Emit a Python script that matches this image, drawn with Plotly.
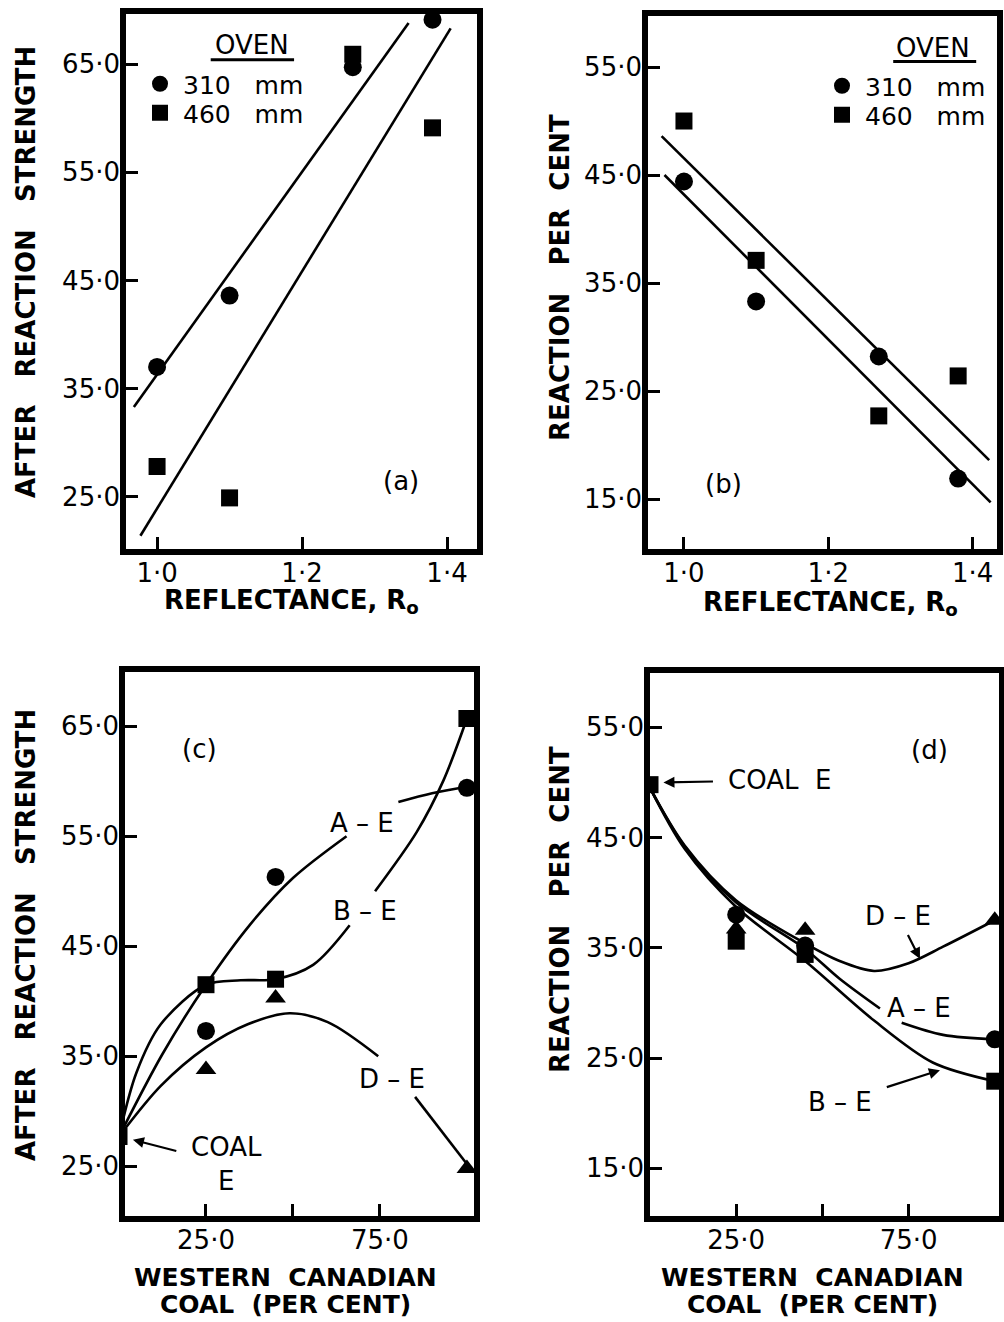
import plotly.graph_objects as go

W, H = 1004, 1322
FONT = "DejaVu Sans"
NB = "\u00a0"

# ---------------- reflectance series, panels (a) and (b) ----------------
reflectance = [1.00, 1.10, 1.27, 1.38]
strength_310 = [37.0, 43.6, 64.7, 69.1]
strength_460 = [27.8, 24.9, 65.9, 59.1]
reaction_310 = [44.4, 33.3, 28.2, 16.9]
reaction_460 = [50.0, 37.1, 22.7, 26.4]

# straight regression lines (end points)
fit_a_upper_x = [0.968, 1.347]
fit_a_upper_y = [33.3, 68.8]
fit_a_lower_x = [0.977, 1.405]
fit_a_lower_y = [21.4, 68.3]
fit_b_upper_x = [0.969, 1.423]
fit_b_upper_y = [48.6, 18.6]
fit_b_lower_x = [0.973, 1.425]
fit_b_lower_y = [45.0, 14.7]

# ---------------- blend series, panels (c) and (d) ----------------
blend_pct = [25, 45, 100]
coal_e_pct = [0]
coal_e_strength = [27.7]
coal_e_reaction = [49.8]
strength_AE = [37.3, 51.3, 59.4]
strength_BE = [41.5, 42.0, 65.7]
strength_DE = [33.8, 40.3, 24.8]
reaction_AE = [38.0, 35.2, 26.7]
reaction_BE = [35.6, 34.4, 22.9]
reaction_DE = [36.7, 36.6, 37.5]

# smoothed trend curves (None = break for the curve label)
c_AE_x = [0, 12.5, 25, 37.5, 50, 65.4, None, 80.3, 90, 100]
c_AE_y = [27.7, 35.2, 41.5, 46.9, 51.2, 55.0, None, 58.1, 58.9, 59.5]
c_BE_x = [0, 5, 12, 25, 35, 45, 55.8, 66.3, None, 73.6, 85.6, 93.3, 100]
c_BE_y = [27.7, 33.5, 37.9, 41.5, 41.9, 42.0, 43.3, 46.9, None, 50.0, 55.4, 60.1, 65.7]
c_DE_x = [0, 12, 25, 37, 49, 60, 74.5, None, 85.1, 100]
c_DE_y = [27.7, 32.3, 35.8, 37.9, 38.9, 38.1, 35.0, None, 31.3, 25.2]

d_DE_x = [0, 10, 25, 45, 55, 65, 75, 85, 100]
d_DE_y = [49.5, 44.3, 39.3, 35.4, 33.8, 32.9, 33.6, 35.1, 37.5]
d_AE_x = [0, 10, 25, 45, 55, 66.7, None, 73.0, 85, 100]
d_AE_y = [49.5, 44.2, 39.1, 34.9, 32.2, 29.5, None, 28.2, 27.1, 26.7]
d_BE_x = [0, 10, 25, 45, 65, 82, 100]
d_BE_y = [49.5, 44.0, 38.7, 33.8, 28.4, 24.6, 22.9]

# tick labels
refl_ticks = [1.0, 1.2, 1.4]
refl_ticktext = ["1·0", "1·2", "1·4"]
strength_ticks = [25, 35, 45, 55, 65]
strength_ticktext = ["25·0", "35·0", "45·0", "55·0", "65·0"]
reaction_ticks = [15, 25, 35, 45, 55]
reaction_ticktext = ["15·0", "25·0", "35·0", "45·0", "55·0"]
pct_ticks = [25, 75]
pct_ticktext = ["25·0", "75·0"]
pct_unlabelled_ticks = [50]


def px(x):
    return x / W


def py(y):
    return 1 - y / H


# panel boxes in pixels: left, right, top, bottom
BOX = {
    "a": (123, 480, 11, 552),
    "b": (645, 1000, 13, 552),
    "c": (122, 477, 669, 1219),
    "d": (647, 1002, 670, 1219),
}

fig = go.Figure()
BLACK = "black"


def pts(x, y, symbol, size, xa, ya, name=None, legend=None):
    fig.add_trace(go.Scatter(
        x=x, y=y, mode="markers", xaxis=xa, yaxis=ya,
        marker=dict(symbol=symbol, size=size, color=BLACK, line=dict(width=0)),
        name=name, showlegend=legend is not None, legend=legend or "legend",
        hoverinfo="skip"))


def curve(x, y, xa, ya, spline=True):
    fig.add_trace(go.Scatter(
        x=x, y=y, mode="lines", xaxis=xa, yaxis=ya,
        line=dict(color=BLACK, width=2.6, shape="spline" if spline else "linear", smoothing=0.9),
        connectgaps=False, showlegend=False, hoverinfo="skip"))


# (a)
curve(fit_a_upper_x, fit_a_upper_y, "x", "y", spline=False)
curve(fit_a_lower_x, fit_a_lower_y, "x", "y", spline=False)
pts(reflectance, strength_310, "circle", 18, "x", "y", f"310{NB*3}mm", "legend")
pts(reflectance, strength_460, "square", 17, "x", "y", f"460{NB*3}mm", "legend2")

# (b)
curve(fit_b_upper_x, fit_b_upper_y, "x2", "y2", spline=False)
curve(fit_b_lower_x, fit_b_lower_y, "x2", "y2", spline=False)
pts(reflectance, reaction_310, "circle", 18, "x2", "y2", f"310{NB*3}mm", "legend3")
pts(reflectance, reaction_460, "square", 17, "x2", "y2", f"460{NB*3}mm", "legend4")

# (c)
curve(c_AE_x, c_AE_y, "x3", "y3")
curve(c_BE_x, c_BE_y, "x3", "y3")
curve(c_DE_x, c_DE_y, "x3", "y3")
pts(blend_pct, strength_AE, "circle", 18, "x3", "y3")
pts(blend_pct, strength_BE, "square", 17, "x3", "y3")
pts(blend_pct, strength_DE, "triangle-up", 18, "x3", "y3")
pts(coal_e_pct, coal_e_strength, "square", 17, "x3", "y3")

# (d)
curve(d_AE_x, d_AE_y, "x4", "y4")
curve(d_BE_x, d_BE_y, "x4", "y4")
curve(d_DE_x, d_DE_y, "x4", "y4")
pts(blend_pct, reaction_AE, "circle", 18, "x4", "y4")
pts(blend_pct, reaction_BE, "square", 17, "x4", "y4")
pts(blend_pct, reaction_DE, "triangle-up", 18, "x4", "y4")
pts(coal_e_pct, coal_e_reaction, "square", 17, "x4", "y4")


def xaxis(box, rng, tickvals, ticktext, anchor, extra_ticks=None):
    l, r, t, b = box
    ax = dict(domain=[px(l), px(r)], range=rng, anchor=anchor,
              tickvals=tickvals, ticktext=ticktext,
              ticks="inside", ticklen=15, tickwidth=3, tickcolor=BLACK,
              tickfont=dict(family=FONT, size=26, color=BLACK),
              ticklabelstandoff=3,
              showgrid=False, zeroline=False, showline=False, fixedrange=True)
    if extra_ticks:
        ax["minor"] = dict(tickvals=extra_ticks, ticks="inside", ticklen=15,
                           tickwidth=3, tickcolor=BLACK, showgrid=False)
    return ax


def yaxis(box, rng, tickvals, ticktext, anchor):
    l, r, t, b = box
    return dict(domain=[py(b), py(t)], range=rng, anchor=anchor,
                tickvals=tickvals, ticktext=ticktext,
                ticks="inside", ticklen=15, tickwidth=3, tickcolor=BLACK,
                tickfont=dict(family=FONT, size=26, color=BLACK),
                ticklabelstandoff=2,
                showgrid=False, zeroline=False, showline=False, fixedrange=True)


layout = dict(
    width=W, height=H, margin=dict(l=0, r=0, t=0, b=0),
    paper_bgcolor="white", plot_bgcolor="rgba(0,0,0,0)",
    font=dict(family=FONT, color=BLACK, size=26),
    showlegend=True,
    xaxis=xaxis(BOX["a"], [0.953, 1.4455], refl_ticks, refl_ticktext, "y"),
    yaxis=yaxis(BOX["a"], [19.9, 69.9], strength_ticks, strength_ticktext, "x"),
    xaxis2=xaxis(BOX["b"], [0.946, 1.438], refl_ticks, refl_ticktext, "y2"),
    yaxis2=yaxis(BOX["b"], [10.1, 60.0], reaction_ticks, reaction_ticktext, "x2"),
    xaxis3=xaxis(BOX["c"], [0.86, 102.9], pct_ticks, pct_ticktext, "y3", pct_unlabelled_ticks),
    yaxis3=yaxis(BOX["c"], [20.2, 70.2], strength_ticks, strength_ticktext, "x3"),
    xaxis4=xaxis(BOX["d"], [-0.87, 102.1], pct_ticks, pct_ticktext, "y4", pct_unlabelled_ticks),
    yaxis4=yaxis(BOX["d"], [10.4, 60.2], reaction_ticks, reaction_ticktext, "x4"),
)


def legend_box(x_px, y_px):
    return dict(x=px(x_px), y=py(y_px), xanchor="left", yanchor="middle",
                bgcolor="rgba(0,0,0,0)", borderwidth=0, itemwidth=36,
                font=dict(family=FONT, size=25, color=BLACK),
                itemclick=False, itemdoubleclick=False)


layout["legend"] = legend_box(137, 84)
layout["legend2"] = legend_box(137, 113)
layout["legend3"] = legend_box(819, 86)
layout["legend4"] = legend_box(819, 115)

shapes = []
for key, (l, r, t, b) in BOX.items():
    shapes.append(dict(type="rect", xref="paper", yref="paper",
                       x0=px(l), x1=px(r), y0=py(b), y1=py(t),
                       line=dict(color=BLACK, width=6), layer="above"))
# underline of the legend headings
shapes.append(dict(type="line", xref="x", yref="y", x0=1.074, x1=1.189, y0=65.4, y1=65.4,
                   line=dict(color=BLACK, width=3)))
shapes.append(dict(type="line", xref="x2", yref="y2", x0=1.29, x1=1.405, y0=55.5, y1=55.5,
                   line=dict(color=BLACK, width=3)))
layout["shapes"] = shapes

ann = []


def text(x, y, s, xref, yref, size=26, bold=False, **kw):
    ann.append(dict(x=x, y=y, xref=xref, yref=yref, text=s, showarrow=False,
                    xanchor="center", yanchor="middle",
                    font=dict(family=FONT, size=size, color=BLACK,
                              weight="bold" if bold else "normal"), **kw))


def pointer(label, lx, ly, tx, ty, xref, yref, gap):
    """Label centred at (lx, ly) with an arrow pointing at (tx, ty)."""
    ann.append(dict(x=tx, y=ty, ax=lx, ay=ly, xref=xref, yref=yref,
                    axref=xref, ayref=yref, text=label, showarrow=True,
                    font=dict(family=FONT, size=26, color=BLACK),
                    arrowhead=2, arrowsize=1.0, arrowwidth=2.2, arrowcolor=BLACK,
                    startstandoff=gap))


# legend headings
text(1.131, 66.75, "OVEN", "x", "y")
text(1.345, 56.8, "OVEN", "x2", "y2")

# panel tags
text(1.336, 26.5, "(a)", "x", "y")
text(1.055, 16.4, "(b)", "x2", "y2")
text(23.1, 62.9, "(c)", "x3", "y3")
text(81.2, 52.9, "(d)", "x4", "y4")

# curve labels (c)
text(69.7, 56.2, "A – E", "x3", "y3")
text(70.7, 48.2, "B – E", "x3", "y3")
text(78.4, 32.9, "D – E", "x3", "y3")
pointer("COAL<br>E", 31.0, 25.2, 4.0, 27.4, "x3", "y3", 14)

# curve labels (d)
pointer(f"COAL{NB*2}E", 37.7, 50.2, 3.9, 50.0, "x4", "y4", 14)
pointer("D – E", 72.0, 37.9, 78.3, 34.0, "x4", "y4", 3)
text(78.1, 29.5, "A – E", "x4", "y4")
pointer("B – E", 55.1, 21.0, 84.1, 23.9, "x4", "y4", 14)

# axis titles
TS = 26
text(px(26), py(272), f"AFTER{NB*3}REACTION{NB*3}STRENGTH", "paper", "paper", size=TS, bold=True, textangle=-90)
text(px(560), py(278), f"REACTION{NB*3}PER{NB*2}CENT", "paper", "paper", size=TS, bold=True, textangle=-90)
text(px(26), py(935), f"AFTER{NB*3}REACTION{NB*3}STRENGTH", "paper", "paper", size=TS, bold=True, textangle=-90)
text(px(560), py(910), f"REACTION{NB*3}PER{NB*2}CENT", "paper", "paper", size=TS, bold=True, textangle=-90)
text(px(291), py(601), "REFLECTANCE,\u00a0R<sub>o</sub>", "paper", "paper", size=TS, bold=True)
text(px(830), py(603), "REFLECTANCE,\u00a0R<sub>o</sub>", "paper", "paper", size=TS, bold=True)
for cx in (285, 812):
    text(px(cx), py(1277), f"WESTERN{NB*2}CANADIAN", "paper", "paper", size=25, bold=True)
    text(px(cx), py(1304), f"COAL{NB*2}(PER{NB}CENT)", "paper", "paper", size=25, bold=True)

layout["annotations"] = ann
fig.update_layout(**layout)
fig.write_html("out.html")
